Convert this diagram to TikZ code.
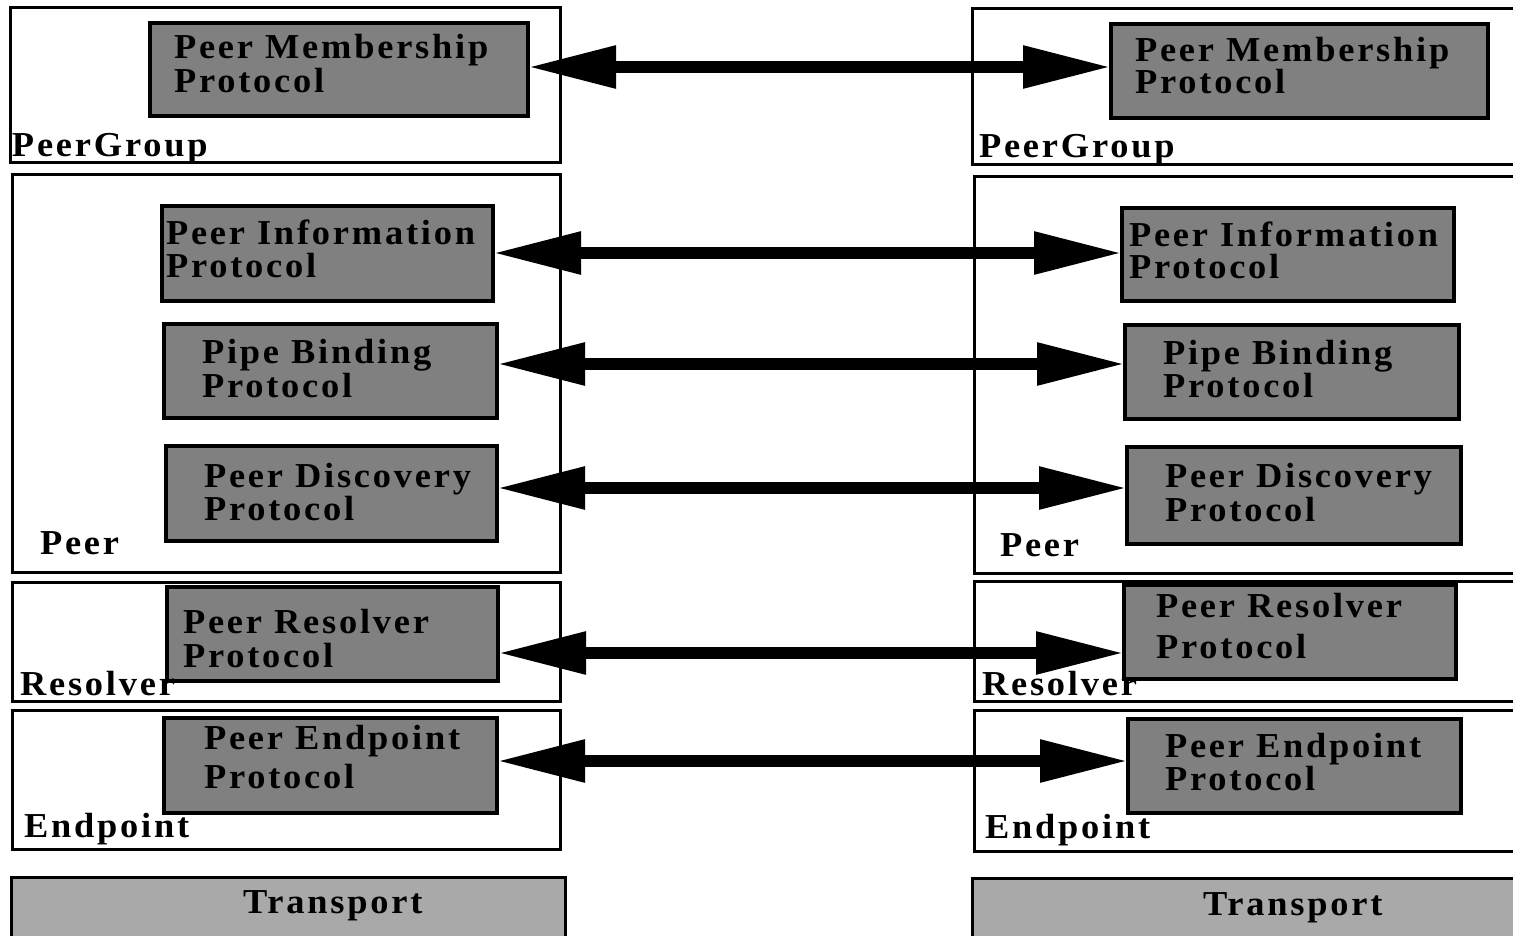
\documentclass[tikz,border=0pt]{standalone}
\usepackage{fontspec}
\setmainfont{Liberation Serif}[FakeStretch=1.04, LetterSpace=8]
\usetikzlibrary{arrows.meta}
\definecolor{protogray}{gray}{0.5}
\definecolor{transgray}{HTML}{A9A9A9}
% two stacked lines whose baseline is that of the first line
\newcommand\pairlines[3][34pt]{\vtop{\baselineskip=#1\lineskiplimit=-1000pt\lineskip=0pt\hbox{#2}\hbox{#3}}}
% rectangle node from its top-left and bottom-right corners
\newcommand\boxnode[6]{\node[#2, anchor=north west, minimum width={#5pt-#3pt}, minimum height={#6pt-#4pt}] (#1) at (#3,#4) {};}
\tikzset{
  layer/.style={draw, line width=3pt, inner sep=0pt, outer sep=0pt},
  proto/.style={draw, line width=3.5pt, fill=protogray, inner sep=0pt, outer sep=0pt},
  transport/.style={draw, line width=3pt, fill=transgray, inner sep=0pt, outer sep=0pt},
  txt/.style={anchor=base west, inner sep=0pt, outer sep=0pt},
  link/.style={line width=12pt, {Triangle[length=88pt,width=40pt]}-{Triangle[length=88pt,width=40pt]}}
}
\begin{document}
\begin{tikzpicture}[x=1pt, y=-1pt, font=\fontsize{35}{34}\selectfont\bfseries]
\clip (0,0) rectangle (1513,935);
\fill[white] (0,0) rectangle (1513,935);

% layers, left stack
\boxnode{lgroup}{layer}{10}{7}{560}{162}
\boxnode{lpeer}{layer}{12}{174}{560}{572}
\boxnode{lres}{layer}{12}{582}{560}{701}
\boxnode{lend}{layer}{12}{710}{560}{849}
\boxnode{ltrans}{transport}{11}{877}{565}{960}
% layers, right stack
\boxnode{rgroup}{layer}{972}{8}{1540}{164}
\boxnode{rpeer}{layer}{974}{176}{1540}{573}
\boxnode{rres}{layer}{974}{581}{1540}{701}
\boxnode{rend}{layer}{974}{710}{1540}{851}
\boxnode{rtrans}{transport}{972}{878}{1540}{960}

% protocol boxes, left
\boxnode{lpmp}{proto}{150}{23}{528}{116}
\boxnode{lpip}{proto}{162}{206}{493}{301}
\boxnode{lpbp}{proto}{164}{324}{497}{418}
\boxnode{lpdp}{proto}{166}{446}{497}{541}
\boxnode{lprp}{proto}{167}{587}{498}{681}
\boxnode{lpep}{proto}{164}{718}{497}{813}
% protocol boxes, right
\boxnode{rpmp}{proto}{1111}{24}{1488}{118}
\boxnode{rpip}{proto}{1122}{208}{1454}{301}
\boxnode{rpbp}{proto}{1125}{325}{1459}{419}
\boxnode{rpdp}{proto}{1127}{447}{1461}{544}
\boxnode{rprp}{proto}{1124}{585}{1456}{679}
\boxnode{rpep}{proto}{1128}{719}{1461}{813}

% peer-to-peer exchanges
\draw[link] (lpmp.east |- 0,67)  -- (rpmp.west |- 0,67);
\draw[link] (lpip.east |- 0,253) -- (rpip.west |- 0,253);
\draw[link] (lpbp.east |- 0,364) -- (rpbp.west |- 0,364);
\draw[link] (lpdp.east |- 0,488) -- (rpdp.west |- 0,488);
\draw[link] (lprp.east |- 0,653) -- (rprp.west |- 0,653);
\draw[link] (lpep.east |- 0,761) -- (rpep.west |- 0,761);

% protocol names
\node[txt] (tlpmp) at (174,58)   {\pairlines[34pt]{Peer Membership}{Protocol}};
\node[txt] (tlpip) at (166,244)  {\pairlines[33pt]{Peer Information}{Protocol}};
\node[txt] (tlpbp) at (202,363)  {\pairlines[34pt]{Pipe Binding}{Protocol}};
\node[txt] (tlpdp) at (204,487)  {\pairlines[33pt]{Peer Discovery}{Protocol}};
\node[txt] (tlprp) at (183,633)  {\pairlines[34pt]{Peer Resolver}{Protocol}};
\node[txt] (tlpep) at (204,749)  {\pairlines[39pt]{Peer Endpoint}{Protocol}};
\node[txt] (trpmp) at (1135,61)  {\pairlines[32pt]{Peer Membership}{Protocol}};
\node[txt] (trpip) at (1129,246) {\pairlines[32pt]{Peer Information}{Protocol}};
\node[txt] (trpbp) at (1163,364) {\pairlines[33pt]{Pipe Binding}{Protocol}};
\node[txt] (trpdp) at (1165,487) {\pairlines[34pt]{Peer Discovery}{Protocol}};
\node[txt] (trprp) at (1156,617) {\pairlines[41pt]{Peer Resolver}{Protocol}};
\node[txt] (trpep) at (1165,757) {\pairlines[33pt]{Peer Endpoint}{Protocol}};

% layer names
\node[txt] (tlgroup) at (12,156)   {PeerGroup};
\node[txt] (tlpeer)  at (40,554)   {Peer};
\node[txt] (tlres)   at (20,695)   {Resolver};
\node[txt] (tlend)   at (24,837)   {Endpoint};
\node[txt] (tltrans) at (243,913)  {Transport};
\node[txt] (trgroup) at (979,157)  {PeerGroup};
\node[txt] (trpeer)  at (1000,556) {Peer};
\node[txt] (trres)   at (982,695)  {Resolver};
\node[txt] (trend)   at (985,838)  {Endpoint};
\node[txt] (trtrans) at (1203,915) {Transport};
\end{tikzpicture}
\end{document}
